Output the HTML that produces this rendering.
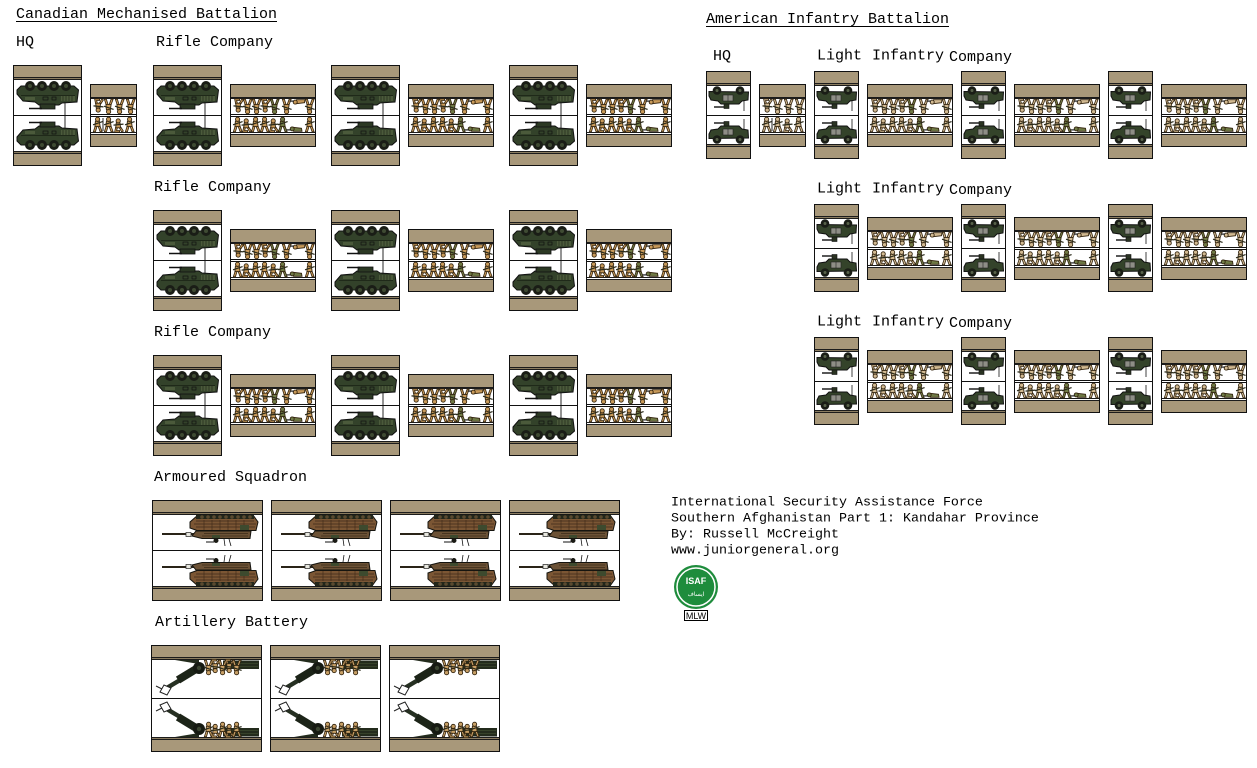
<!DOCTYPE html>
<html><head><meta charset="utf-8">
<style>html,body{margin:0;padding:0;background:#fff;}svg{display:block}</style>
</head><body>
<svg width="1257" height="768" viewBox="0 0 1257 768" xmlns="http://www.w3.org/2000/svg" xmlns:xlink="http://www.w3.org/1999/xlink">
<defs>
 <!-- soldiers (fill inherited) -->
 <g id="s1">
  <path d="M2.2 9 L4.2 9 L2.4 14.8 L0.3 14.8 Z M5 9 L7 9 L9.2 14.8 L7.1 14.8 Z" stroke="#33240f" stroke-width=".8"/>
  <path d="M2.4 4.2 L6.4 4.2 L7.1 9.6 L1.9 9.6 Z" stroke="#33240f" stroke-width=".9"/>
  <circle cx="4.6" cy="2.3" r="2.1" stroke="#33240f" stroke-width=".9"/>
  <path d="M0 7.8 L9.6 4.6" stroke="#2a2a1a" stroke-width="1.2" fill="none"/>
 </g>
 <g id="s2">
  <path d="M1.6 8.8 L3.6 8.8 L2.6 12 L5.6 12 L5.6 13.6 L0.6 13.6 Z M5 8.8 L7 8.8 L9.4 12.6 L7.6 13.4 Z" stroke="#33240f" stroke-width=".8"/>
  <path d="M2.2 4.4 L6 4.4 L6.6 9.3 L1.7 9.3 Z" stroke="#33240f" stroke-width=".9"/>
  <circle cx="4.2" cy="2.4" r="2.1" stroke="#33240f" stroke-width=".9"/>
  <path d="M-0.5 6.6 L9.5 5.6" stroke="#2a2a1a" stroke-width="1.2" fill="none"/>
 </g>
 <g id="s3">
  <path d="M3.5 0.8 L11.5 1.8 L12 4.8 L3.5 4.8 Z" stroke="#33240f" stroke-width=".9"/>
  <circle cx="2.2" cy="2.4" r="2" stroke="#33240f" stroke-width=".9"/>
  <path d="M-3.5 3.4 L1 3.4" stroke="#222" stroke-width="1.2" fill="none"/>
 </g>

 <!-- frames -->
 <g id="f69">
  <rect x=".5" y=".5" width="68" height="100" fill="#fff" stroke="#111"/>
  <rect x="1" y="1" width="67" height="11" fill="#a8987a"/>
  <rect x="1" y="12" width="67" height="3" fill="#1c1c1c"/><rect x="1" y="13" width="67" height="1" fill="#8a7c60"/>
  <rect x="1" y="50" width="67" height="1" fill="#111"/>
  <rect x="1" y="86" width="67" height="3" fill="#1c1c1c"/><rect x="1" y="87" width="67" height="1" fill="#8a7c60"/>
  <rect x="1" y="89" width="67" height="11" fill="#a8987a"/>
 </g>
 <g id="f86">
  <rect x=".5" y=".5" width="85" height="62" fill="#fff" stroke="#111"/>
  <rect x="1" y="1" width="84" height="12" fill="#a8987a"/>
  <rect x="1" y="13" width="84" height="2" fill="#1c1c1c"/>
  <rect x="1" y="30" width="84" height="1" fill="#111"/><rect x="1" y="32" width="84" height="1" fill="#111"/>
  <rect x="1" y="48" width="84" height="1" fill="#1c1c1c"/><rect x="1" y="50" width="84" height="1" fill="#1c1c1c"/>
  <rect x="1" y="51" width="84" height="11" fill="#a8987a"/>
 </g>
 <g id="f47">
  <rect x=".5" y=".5" width="46" height="62" fill="#fff" stroke="#111"/>
  <rect x="1" y="1" width="45" height="12" fill="#a8987a"/>
  <rect x="1" y="13" width="45" height="2" fill="#1c1c1c"/>
  <rect x="1" y="30" width="45" height="1" fill="#111"/><rect x="1" y="32" width="45" height="1" fill="#111"/>
  <rect x="1" y="48" width="45" height="1" fill="#1c1c1c"/><rect x="1" y="50" width="45" height="1" fill="#1c1c1c"/>
  <rect x="1" y="51" width="45" height="11" fill="#a8987a"/>
 </g>
 <g id="f45">
  <rect x=".5" y=".5" width="44" height="87" fill="#fff" stroke="#111"/>
  <rect x="1" y="1" width="43" height="11" fill="#a8987a"/>
  <rect x="1" y="12" width="43" height="3" fill="#1c1c1c"/><rect x="1" y="13" width="43" height="1" fill="#8a7c60"/>
  <rect x="1" y="44" width="43" height="1" fill="#111"/>
  <rect x="1" y="73" width="43" height="3" fill="#1c1c1c"/><rect x="1" y="74" width="43" height="1" fill="#8a7c60"/>
  <rect x="1" y="76" width="43" height="11" fill="#a8987a"/>
 </g>
 <g id="f111">
  <rect x=".5" y=".5" width="110" height="100" fill="#fff" stroke="#111"/>
  <rect x="1" y="1" width="109" height="11" fill="#a8987a"/>
  <rect x="1" y="12" width="109" height="3" fill="#1c1c1c"/><rect x="1" y="13" width="109" height="1" fill="#8a7c60"/>
  <rect x="1" y="50" width="109" height="1" fill="#111"/>
  <rect x="1" y="86" width="109" height="3" fill="#1c1c1c"/><rect x="1" y="87" width="109" height="1" fill="#8a7c60"/>
  <rect x="1" y="89" width="109" height="11" fill="#a8987a"/>
 </g>
 <g id="f107">
  <rect x=".5" y=".5" width="110" height="106" fill="#fff" stroke="#111"/>
  <rect x="1" y="1" width="109" height="11" fill="#a8987a"/>
  <rect x="1" y="12" width="109" height="3" fill="#1c1c1c"/><rect x="1" y="13" width="109" height="1" fill="#8a7c60"/>
  <rect x="1" y="53" width="109" height="1" fill="#111"/>
  <rect x="1" y="92" width="109" height="3" fill="#1c1c1c"/><rect x="1" y="93" width="109" height="1" fill="#8a7c60"/>
  <rect x="1" y="95" width="109" height="11" fill="#a8987a"/>
 </g>

 <!-- LAV side view -->
 <g id="lvS">
  <path d="M4 72 L10 65 L22 64 L26 61 L46 61 L49 63 L64 64 L65.5 76 L61 80 L8 80 L4 76 Z" fill="#33422a" stroke="#111"/>
  <rect x="27" y="57" width="15" height="5" fill="#2c3924" stroke="#111" stroke-width=".8"/>
  <path d="M16 57.5 L29 57.5" stroke="#111" stroke-width="1.5"/>
  <path d="M52 51 L52 63" stroke="#111" stroke-width=".9"/>
  <path d="M8 70.5 L62 70.5" stroke="#1a2214" stroke-width=".8"/>
  <rect x="48" y="65" width="14" height="5" fill="#4b5a3b"/>
  <path d="M50 65 L50 70 M53 65 L53 70 M56 65 L56 70 M59 65 L59 70" stroke="#1a2214" stroke-width=".6"/>
  <rect x="12" y="66" width="10" height="3" fill="#4b5a3b"/>
  <rect x="30" y="66" width="5" height="3" fill="none" stroke="#111" stroke-width=".7"/>
  <rect x="39" y="66" width="4" height="3" fill="none" stroke="#111" stroke-width=".7"/>
  <g fill="#1a1d16"><circle cx="17" cy="80" r="5"/><circle cx="29" cy="80" r="5"/><circle cx="41" cy="80" r="5"/><circle cx="53" cy="80" r="5"/></g>
  <g fill="#3f4b33"><circle cx="17" cy="80" r="2"/><circle cx="29" cy="80" r="2"/><circle cx="41" cy="80" r="2"/><circle cx="53" cy="80" r="2"/></g>
 </g>
 <!-- Humvee side view -->
 <g id="hvS">
  <path d="M3 63 L5 59 L12 58 L15 55 L33 55 L36 58 L42 59 L42.5 67 L3 67.5 Z" fill="#34432a" stroke="#111"/>
  <rect x="17" y="58" width="10" height="6" fill="#8e8e86" stroke="#222" stroke-width=".6"/>
  <path d="M22 58 L22 64" stroke="#222" stroke-width=".6"/>
  <path d="M8 52 L20 52" stroke="#111" stroke-width="1.4"/>
  <rect x="18" y="50.5" width="5" height="4.5" fill="#2a3322" stroke="#111" stroke-width=".6"/>
  <path d="M38 48 L38 58" stroke="#111" stroke-width=".8"/>
  <circle cx="11" cy="68.5" r="4.3" fill="#1a1d16"/><circle cx="34" cy="68.5" r="4.3" fill="#1a1d16"/>
  <circle cx="11" cy="68.5" r="1.5" fill="#58624a"/><circle cx="34" cy="68.5" r="1.5" fill="#58624a"/>
 </g>
 <!-- Tank side view -->
 <g id="tkS">
  <rect x="10" y="66" width="32" height="2" fill="#2a2418"/>
  <rect x="34" y="64.5" width="5" height="4" fill="#e8e8e0" stroke="#222" stroke-width=".7"/>
  <path d="M40 65 L50 62.5 L98 62.5 L99 70 L44 70 Z" fill="#6c5236" stroke="#15140f"/>
  <path d="M50 65 L96 65 M52 67.5 L96 67.5" stroke="#3c2c1a" stroke-width=".7"/>
  <path d="M38 73 L45 70.5 L104 70.5 L106 79 L101 86 L46 86 L38 79 Z" fill="#7b5634" stroke="#15140f"/>
  <path d="M44 74 L103 74 M42 77 L104 77 M44 80 L102 80" stroke="#3e2a18" stroke-width=".8"/>
  <path d="M52 71 L52 81 M60 71 L60 81 M68 71 L68 81 M76 71 L76 81 M84 71 L84 81 M92 71 L92 81" stroke="#3e2a18" stroke-width=".6"/>
  <rect x="88" y="71" width="9" height="5" fill="#3d4a2e"/>
  <rect x="60" y="63" width="8" height="3" fill="#3d4a2e"/>
  <rect x="44" y="82" width="58" height="4" fill="#22261a"/>
  <g fill="#5a4a30"><circle cx="50" cy="84" r="1.8"/><circle cx="56" cy="84" r="1.8"/><circle cx="62" cy="84" r="1.8"/><circle cx="68" cy="84" r="1.8"/><circle cx="74" cy="84" r="1.8"/><circle cx="80" cy="84" r="1.8"/><circle cx="86" cy="84" r="1.8"/><circle cx="92" cy="84" r="1.8"/><circle cx="98" cy="84" r="1.8"/></g>
  <circle cx="64" cy="60.5" r="2.5" fill="#1a1a14"/>
  <path d="M54 59 L62 59" stroke="#111" stroke-width="1"/>
  <path d="M72 62 L73 55 M77 62 L79 55" stroke="#111" stroke-width=".8"/>
 </g>
 <!-- Artillery side view -->
 <g id="arS">
  <rect x="72" y="83" width="36" height="8.5" fill="#232b1c"/>
  <path d="M74 85.5 L107 85.5 M74 88.5 L107 88.5" stroke="#3c4a2e" stroke-width=".8"/>
  <path d="M24 92 L48 88 L48 92 Z" fill="#232b1c"/>
  <path d="M14 63 L46 82" stroke="#263022" stroke-width="4.5"/>
  <path d="M27 72 L50 86" stroke="#1c2418" stroke-width="8"/>
  <path d="M9 60 L16 57 L20 64 L13 67 Z" fill="#fff" stroke="#222" stroke-width="1"/>
  <path d="M5 66 L11 63" stroke="#222" stroke-width="1"/>
  <circle cx="48" cy="84" r="6" fill="#161a12"/><circle cx="48" cy="84" r="2.2" fill="#3a4430"/>
  <g fill="#c8a066">
   <use href="#s1" x="53" y="77"/><use href="#s2" x="60" y="79"/><use href="#s1" x="67" y="77"/><use href="#s2" x="74" y="79"/><use href="#s1" x="81" y="77"/>
  </g>
 </g>

 <!-- squads -->
 <g id="sq86">
  <use href="#s1" x="3" y="33"/><use href="#s2" x="12" y="34.5"/><use href="#s1" x="21" y="33"/><use href="#s1" x="30" y="33"/><use href="#s2" x="39" y="34.5"/><use href="#s1" x="48" y="33" fill="#6f7a45"/><use href="#s3" x="60" y="42.5" fill="#6f7a45"/><use href="#s1" x="75" y="33"/>
  <g transform="translate(0,63) scale(1,-1)">
   <use href="#s2" x="4" y="34.5"/><use href="#s1" x="13" y="33"/><use href="#s1" x="22" y="33"/><use href="#s2" x="31" y="34.5"/><use href="#s1" x="40" y="33" fill="#6f7a45"/><use href="#s1" x="52" y="33"/><use href="#s3" x="63" y="42.5"/><use href="#s1" x="75" y="33"/>
  </g>
 </g>
 <g id="sq47">
  <use href="#s1" x="3" y="33"/><use href="#s1" x="14" y="33"/><use href="#s2" x="24" y="34.5"/><use href="#s1" x="35" y="33"/>
  <path d="M13 34 L13 47" stroke="#222" stroke-width="1"/>
  <g transform="translate(0,63) scale(1,-1)">
   <use href="#s2" x="4" y="34.5"/><use href="#s1" x="14" y="33"/><use href="#s1" x="25" y="33"/><use href="#s1" x="36" y="33"/>
  </g>
 </g>

 <!-- complete boxes -->
 <g id="LAV"><use href="#f69"/><use href="#lvS"/><use href="#lvS" transform="translate(0,101) scale(1,-1)"/></g>
 <g id="HMV"><use href="#f45"/><use href="#hvS"/><use href="#hvS" transform="translate(0,88) scale(1,-1)"/></g>
 <g id="TNK"><use href="#f111"/><use href="#tkS"/><use href="#tkS" transform="translate(0,101) scale(1,-1)"/></g>
 <g id="ART"><use href="#f107"/><use href="#arS"/><use href="#arS" transform="translate(0,107) scale(1,-1)"/></g>
 <g id="CI86"><use href="#f86"/><use href="#sq86" fill="#c89a5a"/></g>
 <g id="CI47"><use href="#f47"/><use href="#sq47" fill="#c89a5a"/></g>
 <g id="UI86"><use href="#f86"/><use href="#sq86" fill="#d2ba92"/></g>
 <g id="UI47"><use href="#f47"/><use href="#sq47" fill="#d2ba92"/></g>
</defs>

<rect width="1257" height="768" fill="#fff"/>

<!-- Canadian -->
<use href="#LAV" x="13" y="65"/><use href="#CI47" x="90" y="84"/>
<use href="#LAV" x="153" y="65"/><use href="#CI86" x="230" y="84"/>
<use href="#LAV" x="331" y="65"/><use href="#CI86" x="408" y="84"/>
<use href="#LAV" x="509" y="65"/><use href="#CI86" x="586" y="84"/>

<use href="#LAV" x="153" y="210"/><use href="#CI86" x="230" y="229"/>
<use href="#LAV" x="331" y="210"/><use href="#CI86" x="408" y="229"/>
<use href="#LAV" x="509" y="210"/><use href="#CI86" x="586" y="229"/>

<use href="#LAV" x="153" y="355"/><use href="#CI86" x="230" y="374"/>
<use href="#LAV" x="331" y="355"/><use href="#CI86" x="408" y="374"/>
<use href="#LAV" x="509" y="355"/><use href="#CI86" x="586" y="374"/>

<use href="#TNK" x="152" y="500"/><use href="#TNK" x="271" y="500"/><use href="#TNK" x="390" y="500"/><use href="#TNK" x="509" y="500"/>
<use href="#ART" x="151" y="645"/><use href="#ART" x="270" y="645"/><use href="#ART" x="389" y="645"/>

<!-- American -->
<use href="#HMV" x="706" y="71"/><use href="#UI47" x="759" y="84"/>
<use href="#HMV" x="814" y="71"/><use href="#UI86" x="867" y="84"/>
<use href="#HMV" x="961" y="71"/><use href="#UI86" x="1014" y="84"/>
<use href="#HMV" x="1108" y="71"/><use href="#UI86" x="1161" y="84"/>

<use href="#HMV" x="814" y="204"/><use href="#UI86" x="867" y="217"/>
<use href="#HMV" x="961" y="204"/><use href="#UI86" x="1014" y="217"/>
<use href="#HMV" x="1108" y="204"/><use href="#UI86" x="1161" y="217"/>

<use href="#HMV" x="814" y="337"/><use href="#UI86" x="867" y="350"/>
<use href="#HMV" x="961" y="337"/><use href="#UI86" x="1014" y="350"/>
<use href="#HMV" x="1108" y="337"/><use href="#UI86" x="1161" y="350"/>

<!-- Labels -->
<g font-family="'Liberation Mono', 'Courier New', monospace" font-size="15" fill="#000">
 <text x="16" y="18">Canadian Mechanised Battalion</text>
 <text x="16" y="46">HQ</text>
 <text x="156" y="46">Rifle Company</text>
 <text x="154" y="191">Rifle Company</text>
 <text x="154" y="336">Rifle Company</text>
 <text x="154" y="481">Armoured Squadron</text>
 <text x="155" y="626">Artillery Battery</text>
 <text x="706" y="23">American Infantry Battalion</text>
 <text x="713" y="60">HQ</text>
 <text x="817" y="59.5">Light</text><text x="872" y="59.5">Infantry</text><text x="949" y="61">Company</text>
 <text x="817" y="192.5">Light</text><text x="872" y="192.5">Infantry</text><text x="949" y="194">Company</text>
 <text x="817" y="325.5">Light</text><text x="872" y="325.5">Infantry</text><text x="949" y="327">Company</text>
</g>
<rect x="16" y="21" width="261" height="1" fill="#000"/>
<rect x="706" y="26" width="243" height="1" fill="#000"/>

<g font-family="'Liberation Mono', 'Courier New', monospace" font-size="13.33" fill="#000">
 <text x="671" y="505.5">International Security Assistance Force</text>
 <text x="671" y="521.5">Southern Afghanistan Part 1: Kandahar Province</text>
 <text x="671" y="537.5">By: Russell McCreight</text>
 <text x="671" y="553.5">www.juniorgeneral.org</text>
</g>

<!-- ISAF logo -->
<circle cx="696" cy="587" r="22" fill="#1e8c3c"/>
<circle cx="696" cy="587" r="19" fill="none" stroke="#fff" stroke-width="1.5"/>
<text x="696" y="584" font-family="'Liberation Sans', sans-serif" font-size="9" font-weight="bold" fill="#fff" text-anchor="middle">ISAF</text>
<text x="696" y="596" font-family="'DejaVu Sans', sans-serif" font-size="6" fill="#fff" text-anchor="middle">ايساف</text>
<rect x="684.5" y="610.5" width="23" height="10" fill="#fff" stroke="#000"/>
<text x="696" y="619" font-family="'Liberation Sans', sans-serif" font-size="9" fill="#000" text-anchor="middle">MLW</text>
</svg>
</body></html>
